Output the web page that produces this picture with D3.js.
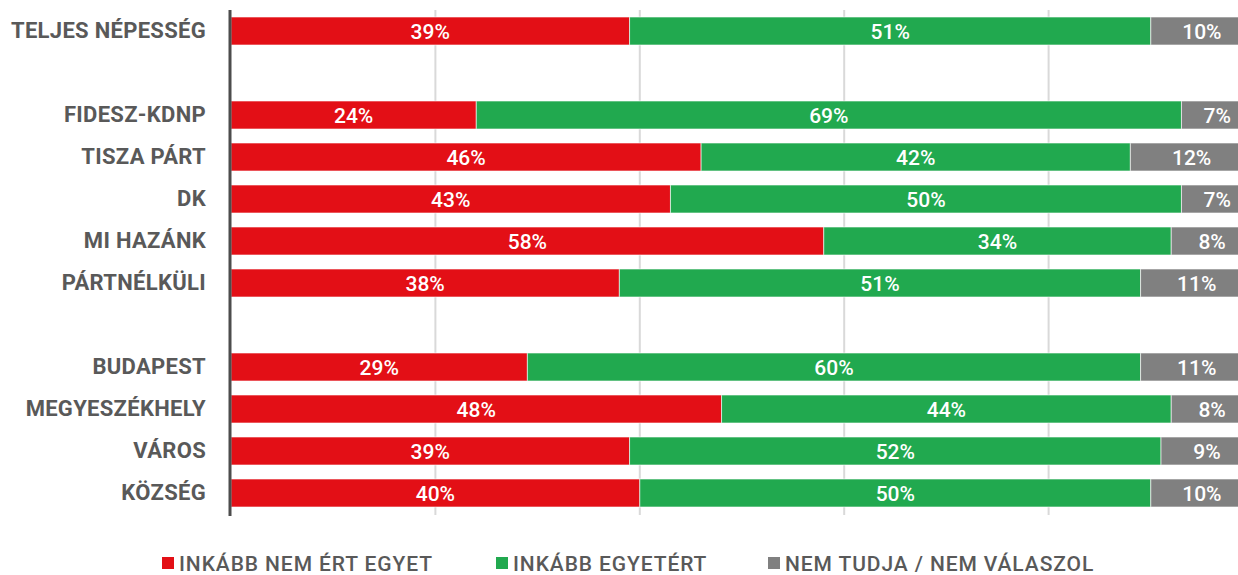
<!DOCTYPE html>
<html>
<head>
<meta charset="utf-8">
<script src="https://cdn.jsdelivr.net/npm/d3@7"></script>
<style>
  body { margin: 0; background: #fff; }
  svg { display: block; font-family: Roboto, "Open Sans", sans-serif; }
</style>
</head>
<body>
<div id="chart"></div>
<script>
// rows of the chart (blank keys are the gaps between groups)
const rows = ["TELJES NÉPESSÉG", "_gap1", "FIDESZ-KDNP", "TISZA PÁRT", "DK", "MI HAZÁNK",
  "PÁRTNÉLKÜLI", "_gap2", "BUDAPEST", "MEGYESZÉKHELY", "VÁROS", "KÖZSÉG"];
const categories = rows.filter(d => !d.startsWith("_"));

// values in percent, same order as categories
const disagree = [39, 24, 46, 43, 58, 38, 29, 48, 39, 40];
const agree    = [51, 69, 42, 50, 34, 51, 60, 44, 52, 50];
const dunno    = [10, 7, 12, 7, 8, 11, 11, 8, 9, 10];

const seriesNames = ["INKÁBB NEM ÉRT EGYET", "INKÁBB EGYETÉRT", "NEM TUDJA / NEM VÁLASZOL"];
const colors = ["#e30f16", "#21a94f", "#808080"];
const gridTicks = [20, 40, 60, 80, 100];

const w = 1238, h = 575;
const left = 231;

const svg = d3.select("#chart").append("svg")
  .attr("width", w)
  .attr("height", h);

const x = d3.scaleLinear().domain([0, 100]).range([left, 1253]);
const y = d3.scaleBand().domain(rows).range([10, 514])
  .paddingInner(1 / 3).paddingOuter(1 / 6);

// build table for the stack
const table = categories.map((c, i) => ({ cat: c, s0: disagree[i], s1: agree[i], s2: dunno[i] }));
const stack = d3.stack().keys(["s0", "s1", "s2"])(table);

// gridlines
svg.append("g").selectAll("line")
  .data(gridTicks)
  .enter().append("line")
  .attr("x1", d => x(d)).attr("x2", d => x(d))
  .attr("y1", 10).attr("y2", 515)
  .attr("stroke", "#d9d9d9")
  .attr("stroke-width", 2);

// bars
const layers = svg.append("g").selectAll("g")
  .data(stack)
  .enter().append("g")
  .attr("fill", (d, i) => colors[i]);

layers.selectAll("rect")
  .data(d => d)
  .enter().append("rect")
  .attr("x", d => x(d[0]))
  .attr("y", d => y(d.data.cat))
  .attr("width", d => x(d[1]) - x(d[0]))
  .attr("height", y.bandwidth())
  .attr("stroke", "rgba(255,255,255,0.6)")
  .attr("stroke-width", 1);

// value labels
layers.selectAll("text")
  .data(d => d)
  .enter().append("text")
  .attr("x", d => (x(d[0]) + x(d[1])) / 2)
  .attr("y", d => y(d.data.cat) + y.bandwidth() / 2)
  .attr("dy", "0.36em")
  .attr("text-anchor", "middle")
  .attr("fill", "#fff")
  .style("font-size", "21px")
  .style("font-weight", 500)
  .text(d => (d[1] - d[0]) + "%");

// category axis
const yAxis = svg.append("g")
  .attr("transform", `translate(${left},0)`)
  .call(d3.axisLeft(y).tickSize(0).tickPadding(25)
    .tickFormat(d => d.startsWith("_") ? "" : d));
yAxis.select(".domain").remove();
yAxis.selectAll("text")
  .attr("fill", "#595959")
  .style("font-size", "22px")
  .style("letter-spacing", "0.3px")
  .style("font-weight", 700)
  .style("font-family", "Roboto, sans-serif");

svg.append("line")
  .attr("x1", left - 1).attr("x2", left - 1)
  .attr("y1", 10).attr("y2", 516)
  .attr("stroke", "#4d4d4d")
  .attr("stroke-width", 3);

// legend
const legendX = [162, 496, 768];
const legend = svg.append("g").attr("id", "legend");
const items = legend.selectAll("g")
  .data(seriesNames)
  .enter().append("g")
  .attr("transform", (d, i) => `translate(${legendX[i]},557)`);
items.append("rect")
  .attr("width", 12).attr("height", 12)
  .attr("fill", (d, i) => colors[i]);
items.append("text")
  .attr("x", 17)
  .attr("y", 14)
  .attr("fill", "#595959")
  .style("font-size", "21px")
  .style("letter-spacing", "0.9px")
  .style("font-weight", 500)
  .text(d => d);
</script>
</body>
</html>
